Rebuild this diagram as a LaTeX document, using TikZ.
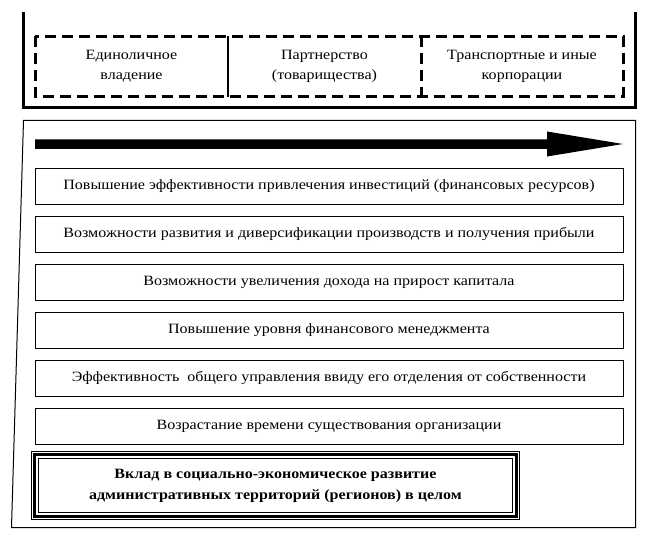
\documentclass[tikz,border=0pt]{standalone}
\usepackage{fontspec}
\setmainfont[FakeStretch=1.13]{Liberation Serif}
\begin{document}
\begin{tikzpicture}[x=1pt,y=-1pt,
  txt/.style={font=\fontsize{14.2}{20}\selectfont, align=center},
  cell/.style={txt, minimum width=193pt, minimum height=60pt, inner sep=0pt},
  rowbox/.style={draw, line width=1pt, txt, minimum width=588pt, minimum height=36pt, inner sep=0pt},
  thickline/.style={line width=3pt},
  dashline/.style={line width=3pt, dash pattern=on 11pt off 6pt},
]
\useasboundingbox (0,0) rectangle (660,540);
% top bracket
\draw[thickline] (23.5,12.5) -- (23.5,107.5) -- (635,107.5) -- (635,12.5);
% dashed box with dividers
\node[cell] (c1) at (131.5,66.5) {Единоличное\\владение};
\node[cell] (c2) at (324.5,66.5) {Партнерство\\(товарищества)};
\node[cell, minimum width=202pt] (c3) at (522,66.5) {Транспортные и иные\\корпорации};
\draw[dashline] (35,36.5) rectangle (623,96.5);
\draw[line width=2.5pt] (c1.north east) -- (c1.south east);
\draw[dashline] (c2.north east) -- (c2.south east);
% lower frame
\draw[line width=1pt] (11.5,527.5) -- (23.5,120.5) -- (635.5,120.5) -- (635.5,527.5) -- cycle;
% big arrow
\fill (35,139.5) -- (547,139.5) -- (547,131.5) -- (623,144) -- (547,156.5) -- (547,149) -- (35,149) -- cycle;
% rows
\node[rowbox] (r1) at (329,186) {Повышение эффективности привлечения инвестиций (финансовых ресурсов)};
\node[rowbox] (r2) at (329,234) {Возможности развития и диверсификации производств и получения прибыли};
\node[rowbox] (r3) at (329,282) {Возможности увеличения дохода на прирост капитала};
\node[rowbox] (r4) at (329,330) {Повышение уровня финансового менеджмента};
\node[rowbox] (r5) at (329,378) {Эффективность\ \ общего управления ввиду его отделения от собственности};
\node[rowbox] (r6) at (329,426) {Возрастание времени существования организации};
% bottom triple box
\node[txt, font=\bfseries\fontsize{14.2}{21}\selectfont, minimum width=488pt, minimum height=68pt, inner sep=0pt] (b) at (275.5,485.5) {Вклад в социально-экономическое развитие\\административных территорий (регионов) в целом};
\draw[line width=0.8pt] (b.north west) rectangle (b.south east);
\draw[line width=2.6pt] ([shift={(3,3)}]b.north west) rectangle ([shift={(-3,-3)}]b.south east);
\draw[line width=0.8pt] ([shift={(7,7)}]b.north west) rectangle ([shift={(-7,-7)}]b.south east);
\end{tikzpicture}
\end{document}
